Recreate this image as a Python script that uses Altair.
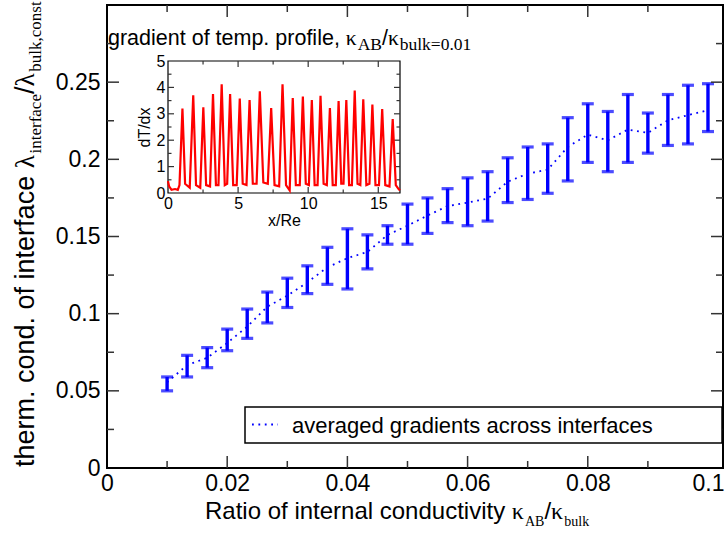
import altair as alt
import pandas as pd

# ---------------- data ----------------
ratio = [0.01, 0.01333, 0.01667, 0.02, 0.02333, 0.02667, 0.03, 0.03333, 0.03667, 0.04,
         0.04333, 0.04667, 0.05, 0.05333, 0.05667, 0.06, 0.06333, 0.06667, 0.07, 0.07333,
         0.07667, 0.08, 0.08333, 0.08667, 0.09, 0.09333, 0.09667, 0.1]
lower = [0.050, 0.059, 0.065, 0.076, 0.084, 0.094, 0.104, 0.113, 0.119, 0.116,
         0.129, 0.145, 0.145, 0.152, 0.159, 0.157, 0.160, 0.172, 0.174, 0.178,
         0.186, 0.198, 0.192, 0.198, 0.204, 0.209, 0.210, 0.218]
upper = [0.059, 0.073, 0.078, 0.090, 0.103, 0.114, 0.123, 0.131, 0.143, 0.155,
         0.151, 0.157, 0.171, 0.175, 0.181, 0.188, 0.192, 0.201, 0.208, 0.210,
         0.227, 0.236, 0.231, 0.242, 0.230, 0.242, 0.248, 0.249]
mean = [0.0555, 0.0667, 0.0714, 0.081, 0.0916, 0.1045, 0.1117, 0.1203, 0.130, 0.136,
        0.140, 0.151, 0.157, 0.1636, 0.1697, 0.172, 0.1745, 0.1855, 0.1907, 0.1933,
        0.208, 0.216, 0.2123, 0.2193, 0.2171, 0.2253, 0.2286, 0.2318]

x_major = [0, 0.02, 0.04, 0.06, 0.08, 0.1]
x_minor = [0.01, 0.03, 0.05, 0.07, 0.09]
y_major = [0, 0.05, 0.1, 0.15, 0.2, 0.25]
y_minor = [0.025, 0.075, 0.125, 0.175, 0.225, 0.275]

# inset: gradient of temperature profile
inset_x = [0.0, 0.08, 0.25, 0.5, 0.7, 0.82,
           1.03, 1.22, 1.55, 1.80, 2.0, 2.3, 2.52, 2.72, 3.0, 3.21, 3.42, 3.6,
           3.83, 4.05, 4.22, 4.43, 4.65, 4.9, 5.12, 5.33, 5.6, 5.82, 6.05, 6.32,
           6.55, 6.8, 7.12, 7.36, 7.6, 7.93, 8.17, 8.42, 8.68, 8.90, 9.12, 9.4,
           9.62, 9.83, 10.05, 10.26, 10.46, 10.67, 10.88, 11.1, 11.33, 11.55, 11.75, 11.97,
           12.17, 12.36, 12.52, 12.72, 12.92, 13.12, 13.32, 13.52, 13.72, 13.93, 14.15, 14.37,
           14.58, 14.8, 15.05, 15.28, 15.5, 15.8, 16.03, 16.25, 16.45, 16.55]
inset_y = [0.45, 0.25, 0.12, 0.15, 0.12, 0.3,
           3.2, 0.35, 0.2, 3.7, 0.3, 0.2, 3.25, 0.3, 0.25, 3.75, 0.3, 0.3,
           4.12, 0.3, 0.35, 3.75, 0.3, 0.3, 3.58, 0.35, 0.3, 3.52, 0.35, 0.35,
           3.85, 0.4, 0.35, 3.22, 0.3, 0.25, 4.12, 0.3, 0.1, 3.6, 0.3, 0.3,
           3.65, 0.35, 0.3, 3.52, 0.3, 0.3, 3.68, 0.35, 0.3, 3.22, 0.3, 0.3,
           3.48, 0.35, 0.35, 3.52, 0.3, 0.3, 3.88, 0.35, 0.3, 3.55, 0.3, 0.35,
           3.35, 0.3, 0.3, 3.18, 0.3, 0.25, 2.8, 0.3, 0.15, 0.1]
inset_x_major = [0, 5, 10, 15]
inset_x_minor = [2.5, 7.5, 12.5]
inset_y_major = [0, 1, 2, 3, 4, 5]
inset_y_minor = [0.5, 1.5, 2.5, 3.5, 4.5]

legend_label = "averaged gradients across interfaces"

# ---------------- layout ----------------
W, H = 616, 463
LEFT, TOP = 107, 5
XMAX, YMAX = 0.1025, 0.3
IXMAX, IYMAX = 16.55, 5
IN_L, IN_R, IN_T, IN_B = 168, 400, 61, 193   # inset frame (page px)
BLUE = "#0000ff"
RED = "#ff0000"
TICK = "#333333"
SANS = "Liberation Sans"
SERIF = "Liberation Serif"

one = pd.DataFrame({"k": [0]})


def xs():
    return alt.Scale(domain=[0, XMAX], nice=False, zero=False)


def ys():
    return alt.Scale(domain=[0, YMAX], nice=False, zero=False)


def ixs():
    return alt.Scale(domain=[0, IXMAX], range=[IN_L - LEFT, IN_R - LEFT], nice=False, zero=False)


def iys():
    return alt.Scale(domain=[0, IYMAX], range=[IN_B - TOP, IN_T - TOP], nice=False, zero=False)


# ---- text width helper (Arial / Times metrics) ----
W_SANS = {' ': 278, 'a': 556, 'b': 556, 'c': 500, 'd': 556, 'e': 556, 'f': 278, 'g': 556,
          'h': 556, 'i': 222, 'k': 500, 'l': 222, 'm': 833, 'n': 556, 'o': 556, 'p': 556,
          'r': 333, 's': 500, 't': 278, 'u': 556, 'v': 500, 'x': 500, 'y': 500, 'R': 722,
          ',': 278, '.': 278, '/': 278, '=': 584}
W_SERIF = {'a': 444, 'b': 500, 'c': 444, 'e': 444, 'f': 333, 'i': 278, 'k': 500, 'l': 278,
           'n': 500, 'o': 500, 'r': 333, 's': 389, 't': 278, 'u': 500, 'A': 722, 'B': 667,
           ',': 250, '.': 250, '=': 564, 'κ': 550, 'λ': 550}


def tw(s, size, serif):
    tab = W_SERIF if serif else W_SANS
    return sum(tab.get(c, 500 if serif else 556) for c in s) * size / 1000.0


def run(pieces, start, base, vertical=False):
    """pieces: (text, serif, size, shift). Returns text layers."""
    layers = []
    pos = start
    for text, serif, size, shift in pieces:
        if vertical:
            px, py, ang = base + shift, pos, 270
        else:
            px, py, ang = pos, base + shift, 0
        layers.append(
            alt.Chart(one).mark_text(text=text, font=SERIF if serif else SANS, fontSize=size,
                                     align="left", baseline="alphabetic", angle=ang, color="black")
            .encode(x=alt.value(px - LEFT), y=alt.value(py - TOP))
        )
        w = tw(text, size, serif)
        pos = pos - w if vertical else pos + w
    return layers


df = pd.DataFrame({"ratio": ratio, "lo": lower, "hi": upper, "mean": mean})


def X():
    return alt.X("ratio:Q", scale=xs(), axis=None)


bars = alt.Chart(df).mark_rule(color=BLUE, strokeWidth=3.4).encode(
    x=alt.X("ratio:Q", scale=xs(),
            axis=alt.Axis(orient="bottom", values=x_major, format="~g", ticks=False, domain=False,
                          grid=False, labelFont=SANS, labelFontSize=23, labelColor="black",
                          labelPadding=4, labelFlush=False, labelOverlap=False, title=None)),
    y=alt.Y("lo:Q", scale=ys(),
            axis=alt.Axis(orient="left", values=y_major, format="~g", ticks=False, domain=False,
                          grid=False, labelFont=SANS, labelFontSize=23, labelColor="black",
                          labelPadding=7, labelFlush=False, labelOverlap=False, title=None)),
    y2="hi:Q",
)
cap_lo = alt.Chart(df).mark_tick(color=BLUE, orient="horizontal", size=12, thickness=3.2).encode(
    x=X(), y=alt.Y("lo:Q", scale=ys(), axis=None))
cap_hi = alt.Chart(df).mark_tick(color=BLUE, orient="horizontal", size=12, thickness=3.2).encode(
    x=X(), y=alt.Y("hi:Q", scale=ys(), axis=None))
line = alt.Chart(df).mark_line(color=BLUE, strokeWidth=1.8, strokeDash=[1.8, 4.6]).encode(
    x=X(), y=alt.Y("mean:Q", scale=ys(), axis=None))


def xticks(vals, length):
    d = pd.DataFrame({"t": vals})
    b = alt.Chart(d).mark_rule(color=TICK, strokeWidth=1.5).encode(
        x=alt.X("t:Q", scale=xs(), axis=None), y=alt.value(H), y2=alt.value(H - length))
    t = alt.Chart(d).mark_rule(color=TICK, strokeWidth=1.5).encode(
        x=alt.X("t:Q", scale=xs(), axis=None), y=alt.value(0), y2=alt.value(length))
    return [b, t]


def yticks(vals, length):
    d = pd.DataFrame({"t": vals})
    l = alt.Chart(d).mark_rule(color=TICK, strokeWidth=1.5).encode(
        y=alt.Y("t:Q", scale=ys(), axis=None), x=alt.value(0), x2=alt.value(length))
    r = alt.Chart(d).mark_rule(color=TICK, strokeWidth=1.5).encode(
        y=alt.Y("t:Q", scale=ys(), axis=None), x=alt.value(W), x2=alt.value(W - length))
    return [l, r]


ticks = xticks(x_major[1:-1], 12) + xticks(x_minor, 7) + yticks(y_major[1:], 12) + yticks(y_minor, 7)

# legend box
leg_box = alt.Chart(one).mark_rect(fill="white", stroke="black", strokeWidth=1.5).encode(
    x=alt.value(245 - LEFT), x2=alt.value(722 - LEFT), y=alt.value(407 - TOP), y2=alt.value(443 - TOP))
leg_line = alt.Chart(one).mark_rule(color=BLUE, strokeWidth=1.8, strokeDash=[1.8, 4.6]).encode(
    x=alt.value(252 - LEFT), x2=alt.value(278 - LEFT), y=alt.value(424.5 - TOP))
leg_text = alt.Chart(one).mark_text(text=legend_label, font=SANS, fontSize=22, align="left",
                                    baseline="middle", color="black").encode(
    x=alt.value(292 - LEFT), y=alt.value(426 - TOP))

# axis titles with sub-scripts
FX, SX = 24, 14
x_title = run([("Ratio of internal conductivity ", False, FX, 0), ("κ", True, FX, 0),
               ("AB", True, SX, 7), ("/", False, FX, 0), ("κ", True, FX, 0),
               ("bulk", True, SX, 7)], 205, 519)
FY, SY = 27, 17
ypieces = [("therm. cond. of interface ", False, FY, 0), ("λ", True, FY, 0),
           ("interface", True, SY, 7), ("/", False, FY, 0), ("λ", True, FY, 0),
           ("bulk,const", True, SY, 7)]
y_title = run(ypieces, 467, 34, vertical=True)

FI, SI = 21.5, 17.5
inset_title = run([("gradient of temp. profile, ", False, FI, 0), ("κ", True, FI, 0),
                   ("AB", True, SI, 5), ("/", False, FI, 0), ("κ", True, FI, 0),
                   ("bulk=0.01", True, SI, 5)], 108, 45)

# ---------------- inset ----------------
idf = pd.DataFrame({"ix": inset_x, "iy": inset_y})
IX = alt.X("ix:Q", scale=ixs(),
           axis=alt.Axis(orient="bottom", offset=-(H - (IN_B - TOP)), values=inset_x_major,
                         ticks=False, domain=False, grid=False, labelFont=SANS, labelFontSize=16,
                         labelColor="black", labelPadding=2, labelFlush=False,
                         title="x/Re", titleFont=SANS, titleFontSize=16, titleFontWeight="normal",
                         titleColor="black", titlePadding=1))
IY = alt.Y("iy:Q", scale=iys(),
           axis=alt.Axis(orient="left", offset=-(IN_L - LEFT), values=inset_y_major,
                         ticks=False, domain=False, grid=False, labelFont=SANS, labelFontSize=16,
                         labelColor="black", labelPadding=3, labelFlush=False,
                         title="dT/dx", titleFont=SANS, titleFontSize=16, titleFontWeight="normal",
                         titleColor="black", titlePadding=4))

iframe = alt.Chart(one).mark_rect(fill="white", stroke="black", strokeWidth=1.2).encode(
    x=alt.X(datum=0, scale=ixs(), axis=None), x2=alt.datum(IXMAX),
    y=alt.Y(datum=0, scale=iys(), axis=None), y2=alt.datum(IYMAX))
icurve = alt.Chart(idf).mark_line(color=RED, strokeWidth=2.2).encode(x=IX, y=IY)

px_x = (IN_R - IN_L) / IXMAX
px_y = (IN_B - IN_T) / IYMAX


def ixticks(vals, length):
    d = pd.DataFrame({"t": vals})
    out = []
    for y0, y1 in [(0, length / px_y), (IYMAX, IYMAX - length / px_y)]:
        out.append(alt.Chart(d).mark_rule(color=TICK, strokeWidth=1.2).encode(
            x=alt.X("t:Q", scale=ixs(), axis=None), y=alt.Y(datum=y0, scale=iys(), axis=None),
            y2=alt.datum(y1)))
    return out


def iyticks(vals, length):
    d = pd.DataFrame({"t": vals})
    out = []
    for x0, x1 in [(0, length / px_x), (IXMAX, IXMAX - length / px_x)]:
        out.append(alt.Chart(d).mark_rule(color=TICK, strokeWidth=1.2).encode(
            y=alt.Y("t:Q", scale=iys(), axis=None), x=alt.X(datum=x0, scale=ixs(), axis=None),
            x2=alt.datum(x1)))
    return out


iticks = ixticks(inset_x_major[1:], 6) + ixticks(inset_x_minor, 3.5) + \
    iyticks(inset_y_major[1:-1], 6) + iyticks(inset_y_minor, 3.5)

layers = [bars, cap_lo, cap_hi, line, *ticks, leg_box, leg_line, leg_text,
          *x_title, *y_title, *inset_title, iframe, *iticks, icurve]

chart = alt.layer(*layers).resolve_scale(x="independent", y="independent").resolve_axis(
    x="independent", y="independent"
).properties(
    width=W, height=H,
    autosize=alt.AutoSizeParams(type="none"),
    padding={"left": LEFT, "top": TOP, "right": 727 - LEFT - W, "bottom": 534 - TOP - H},
    background="white",
).configure_view(stroke="black", strokeWidth=2)

chart.save("out.html", embed_options={"renderer": "svg", "actions": False})
